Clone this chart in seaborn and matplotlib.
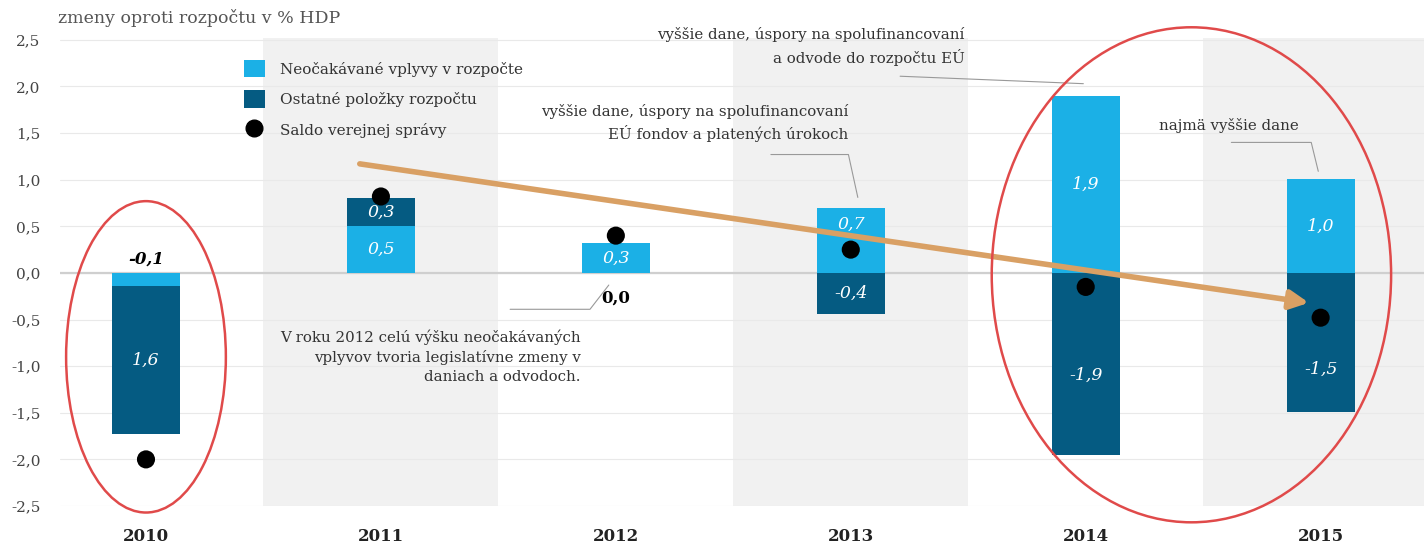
import numpy as np
import pandas as pd
import seaborn as sns
import matplotlib.pyplot as plt
from matplotlib.patches import Patch, Ellipse
from matplotlib.lines import Line2D

# Data
years = ['2010', '2011', '2012', '2013', '2014', '2015']
unexpected = [-0.14, 0.50, 0.32, 0.70, 1.90, 1.01]      # Neočakávané vplyvy v rozpočte
other = [-1.59, 0.30, 0.0, -0.44, -1.95, -1.49]         # Ostatné položky rozpočtu
balance = [-2.0, 0.82, 0.40, 0.25, -0.15, -0.48]        # Saldo verejnej správy
unexpected_labels = ['-0,1', '0,5', '0,3', '0,7', '1,9', '1,0']
other_labels = ['1,6', '0,3', '0,0', '-0,4', '-1,9', '-1,5']
yticks = [-2.5, -2.0, -1.5, -1.0, -0.5, 0.0, 0.5, 1.0, 1.5, 2.0, 2.5]

LIGHT = '#1bb0e6'
DARK = '#055b82'
GREY_BAND = '#f1f1f1'
TXT = '#333333'
SERIF = 'DejaVu Serif'

sns.set_theme(style='white')
plt.rcParams['font.family'] = [SERIF]

df = pd.DataFrame({'year': years, 'unexpected': unexpected, 'other': other, 'balance': balance})
pos = np.arange(len(years))

fig = plt.figure(figsize=(14.24, 5.44), dpi=100)
ax = fig.add_axes([60 / 1424, 38 / 544, 1364 / 1424, 468 / 544])

# alternating grey bands
for i in pos[1::2]:
    ax.axvspan(i - 0.5, i + 0.5, color=GREY_BAND, zorder=0, lw=0)
for v in yticks:
    ax.axhline(v, color='#e9e9e9', lw=0.8, zorder=0.5)
ax.axhline(0, color='#cfcfcf', lw=1.6, zorder=0.6)

bw = 0.29
sns.barplot(data=df, x='year', y='unexpected', color=LIGHT, width=bw, saturation=1,
            ax=ax, zorder=2, linewidth=0)
# stack the second series on top of the first when signs agree
bottoms = [u if np.sign(u) == np.sign(o) else 0 for u, o in zip(unexpected, other)]
ax.bar(pos, other, bottom=bottoms, width=bw, color=DARK, zorder=2, linewidth=0)

sns.scatterplot(x=pos, y=balance, color='black', s=170, ax=ax, zorder=4, edgecolor='none')

# labels inside bars, kept clear of the dot
def label_y(lo, hi, dot):
    lo, hi = min(lo, hi), max(lo, hi)
    if lo < dot < hi:
        if hi - dot > dot - lo:
            return (dot + hi) / 2 + 0.05
        return (lo + dot) / 2 - 0.05
    return (lo + hi) / 2

for i in pos:
    u, o, b0 = unexpected[i], other[i], bottoms[i]
    if abs(u) > 0.2:
        ax.text(i, label_y(0, u, balance[i]), unexpected_labels[i], ha='center', va='center',
                color='white', fontsize=12.5, style='italic', zorder=5)
    if abs(o) > 0.2:
        ax.text(i, label_y(b0, b0 + o, balance[i]), other_labels[i], ha='center', va='center',
                color='white', fontsize=12.5, style='italic', zorder=5)

# small values shown outside
ax.text(0, 0.15, unexpected_labels[0], ha='center', va='center', color='black',
        fontsize=12, style='italic', fontweight='bold', zorder=5)
ax.text(2.0, -0.27, other_labels[2], ha='center', va='center', color='black',
        fontsize=12, fontweight='bold', zorder=5)
ax.plot([1.55, 1.89, 1.97], [-0.39, -0.39, -0.13], color='#999999', lw=0.8, zorder=3)

# annotations
ann_kw = dict(fontsize=10.8, color=TXT, zorder=6, linespacing=1.45)
ax.text(3.485, 2.43, 'vyššie dane, úspory na spolufinancovaní\na odvode do rozpočtu EÚ',
        ha='right', va='center', **ann_kw)
ax.plot([3.21, 3.99], [2.11, 2.03], color='#999999', lw=0.8, zorder=3)
ax.text(2.99, 1.61, 'vyššie dane, úspory na spolufinancovaní\nEÚ fondov a platených úrokoch',
        ha='right', va='center', **ann_kw)
ax.plot([2.66, 2.99, 3.03], [1.27, 1.27, 0.81], color='#999999', lw=0.8, zorder=3)
ax.text(4.31, 1.58, 'najmä vyššie dane', ha='left', va='center', **ann_kw)
ax.plot([4.62, 4.96, 4.99], [1.40, 1.40, 1.09], color='#999999', lw=0.8, zorder=3)
ax.text(1.85, -0.90, 'V roku 2012 celú výšku neočakávaných\nvplyvov tvoria legislatívne zmeny v\n'
        'daniach a odvodoch.', ha='right', va='center', **ann_kw)

# trend arrow
ax.annotate('', xy=(4.95, -0.32), xytext=(0.91, 1.17),
            arrowprops=dict(arrowstyle='-|>', lw=4, color='#d9a064', mutation_scale=28,
                            shrinkA=0, shrinkB=0), zorder=7)

# red ellipses
ax.add_patch(Ellipse((0.0, -0.9), 0.68, 3.34, fill=False, ec='#e04a4a', lw=1.8,
                     clip_on=False, zorder=8))
ax.add_patch(Ellipse((4.45, -0.02), 1.70, 5.31, fill=False, ec='#e04a4a', lw=1.8,
                     clip_on=False, zorder=8))

# axes styling
ax.set_xlim(-0.366, 5.44)
ax.set_ylim(-2.5, 2.52)
ax.set_yticks(yticks)
ax.set_yticklabels([f'{v:.1f}'.replace('.', ',') for v in yticks])
ax.set_xticks(pos)
ax.set_xticklabels(years, fontweight='bold')
ax.tick_params(axis='y', length=0, pad=14, labelsize=11, labelcolor='#444444')
ax.tick_params(axis='x', length=0, pad=16, labelsize=12, labelcolor='#222222')
ax.set_xlabel('')
ax.set_ylabel('')
for s in ax.spines.values():
    s.set_visible(False)

fig.text(58 / 1424, 1 - 18 / 544, 'zmeny oproti rozpočtu v % HDP', ha='left', va='center',
         fontsize=12.5, color='#555555')

handles = [Patch(facecolor=LIGHT, edgecolor='none'),
           Patch(facecolor=DARK, edgecolor='none'),
           Line2D([], [], marker='o', ls='none', color='black', markersize=12)]
ax.legend(handles, ['Neočakávané vplyvy v rozpočte', 'Ostatné položky rozpočtu',
                    'Saldo verejnej správy'],
          loc='upper left', bbox_to_anchor=(0.129, 0.97), frameon=False,
          fontsize=11, labelspacing=0.85, handlelength=1.4, handleheight=1.4,
          handletextpad=1.0, borderpad=0, labelcolor=TXT)

fig.savefig('out.png', dpi=100)
